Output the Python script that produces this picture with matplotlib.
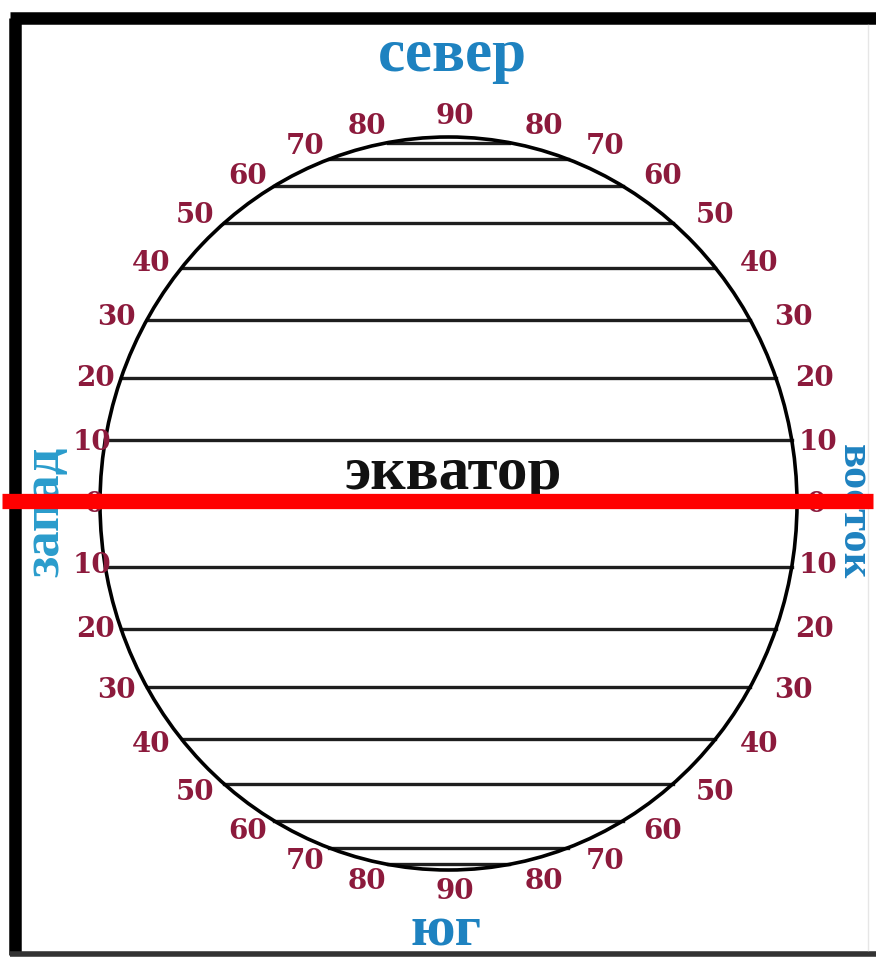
import numpy as np
import matplotlib
matplotlib.use("Agg")
import matplotlib.pyplot as plt
from matplotlib.patches import Ellipse

# ---- data ----
parallels = [80, 70, 60, 50, 40, 30, 20, 10, 0, -10, -20, -30, -40, -50, -60, -70, -80]
label_lats = [90, 80, 70, 60, 50, 40, 30, 20, 10, 0, -10, -20, -30, -40, -50, -60, -70, -80, -90]
directions = {"north": "север", "south": "юг", "west": "запад", "east": "восток"}
equator_label = "экватор"

# ---- layout ----
W, H = 876, 957
cx, cy = 448.5, 503.5     # globe centre (px)
a, b = 348.5, 366.5       # globe semi-axes (px)
lcx, lcy = 455, 504       # label circle centre

fig = plt.figure(figsize=(W / 100, H / 100), dpi=100)
ax = fig.add_axes([0, 0, 1, 1])
ax.set_xlim(0, W)
ax.set_ylim(H, 0)
ax.axis("off")

serif = ["Liberation Serif", "DejaVu Serif"]
digit_font = ["DejaVu Serif"]
maroon = "#8c1a3c"
blue = "#1e82c0"

# frame
ax.plot([15, 15], [18, 955], color="black", lw=9, solid_capstyle="butt", zorder=1)
ax.plot([10, W], [18, 18], color="black", lw=9, solid_capstyle="butt", zorder=1)
ax.plot([10, W], [954, 954], color="#333333", lw=4, solid_capstyle="butt", zorder=1)
ax.plot([868, 868], [25, 950], color="#e6e6e6", lw=1, zorder=1)

# globe
ax.add_patch(Ellipse((cx, cy), 2 * a, 2 * b, facecolor="none", edgecolor="black",
                     lw=2.6, zorder=3))
for lat in parallels:
    r = np.radians(lat)
    y = cy - b * np.sin(r)
    half = a * np.cos(r)
    ax.plot([cx - half, cx + half], [y, y], color="#1e1e1e", lw=2.4, zorder=2)

# latitude labels
for lat in label_lats:
    ang = np.radians(lat * 0.96)
    rr = 388 - 27 * np.cos(np.radians(lat)) ** 20
    y = lcy - rr * np.sin(ang)
    dx = rr * np.cos(ang)
    sides = [0] if abs(lat) == 90 else [-1, 1]
    for s in sides:
        ax.text(lcx + s * dx, y, str(abs(lat)), ha="center", va="center",
                fontsize=20, fontweight="bold", family=digit_font, color=maroon, zorder=4)

# direction words
ax.text(452, 56, directions["north"], ha="center", va="center", fontsize=44,
        fontweight="bold", family=serif, color=blue, zorder=4)
ax.text(446, 931, directions["south"], ha="center", va="center", fontsize=42,
        fontweight="bold", family=serif, color=blue, zorder=4)
ax.text(45, 512, directions["west"], ha="center", va="center", fontsize=38,
        fontweight="bold", family=serif, color="#2a9ccc", rotation=90, zorder=4)
ax.text(854, 512, directions["east"], ha="center", va="center", fontsize=32,
        fontweight="bold", family=serif, color=blue, rotation=270, zorder=4)

# equator label and red line
ax.text(453, 474, equator_label, ha="center", va="center", fontsize=44,
        fontweight="bold", family=serif, color="#111111", zorder=4)
ax.plot([2, 873], [501, 501], color="#ff0000", lw=11, solid_capstyle="butt", zorder=6)

fig.savefig("out.png", dpi=100)
